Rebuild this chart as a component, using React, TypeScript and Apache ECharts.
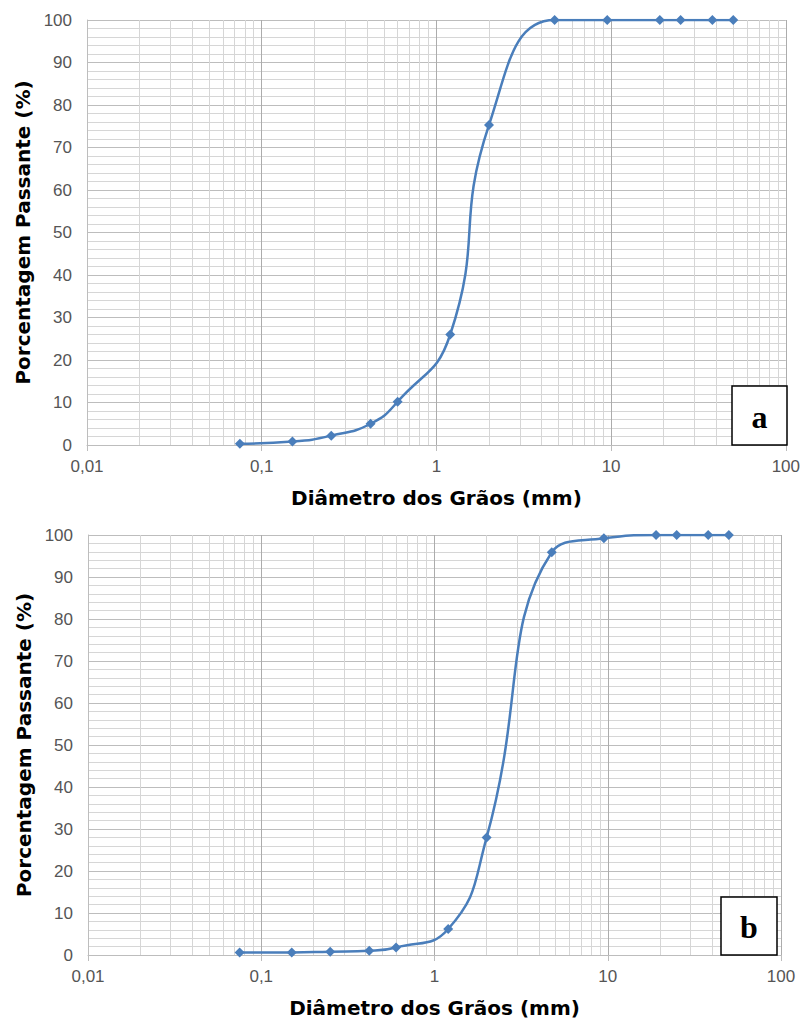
import React, { useEffect, useRef } from "react";
import * as echarts from "echarts";

// Sieve diameters (mm)
const diametersA = [0.075, 0.15, 0.25, 0.42, 0.6, 1.2, 2.0, 4.75, 9.5, 19, 25, 38, 50];
const passingA = [0.3, 0.8, 2.2, 5.0, 10.2, 26, 75.3, 100, 100, 100, 100, 100, 100];

const diametersB = [0.075, 0.15, 0.25, 0.42, 0.6, 1.2, 2.0, 4.75, 9.5, 19, 25, 38, 50];
const passingB = [0.6, 0.6, 0.8, 1.0, 1.8, 6.2, 28, 95.9, 99.2, 100, 100, 100, 100];

const decades = [0.01, 0.1, 1, 10];
const minorMultipliers = [2, 3, 4, 5, 6, 7, 8, 9];

const xTitle = "Diâmetro dos Grãos (mm)";
const yTitle = "Porcentagem Passante (%)";

const FONT = "'Liberation Sans', Arial, sans-serif";
const TITLE_FONT = "'DejaVu Sans', 'Liberation Sans', Arial, sans-serif";
const LINE_COLOR = "#4a7ebb";
const MAJOR_GRID = "#bdbdbd";
const MINOR_GRID = "#d6d6d6";
const LABEL_COLOR = "#555555";

function minorLines() {
  const out: { xAxis: number }[] = [];
  decades.forEach((d) =>
    minorMultipliers.forEach((m) => out.push({ xAxis: Number((d * m).toPrecision(6)) }))
  );
  return out;
}

function fmt(v: number) {
  return String(Number(v.toPrecision(6))).replace(".", ",");
}

function makeX(gridIndex: number) {
  return {
    type: "log",
    logBase: 10,
    gridIndex,
    min: 0.01,
    max: 100,
    name: xTitle,
    nameLocation: "middle",
    nameGap: 43,
    nameTextStyle: { fontFamily: TITLE_FONT, fontSize: 20, fontWeight: "bold", color: "#000" },
    axisLine: { show: true, lineStyle: { color: MAJOR_GRID, width: 1 } },
    axisTick: { show: true, length: 6, lineStyle: { color: MAJOR_GRID } },
    axisLabel: {
      margin: 13,
      fontFamily: FONT,
      fontSize: 17,
      color: LABEL_COLOR,
      formatter: (v: number) => fmt(v),
    },
    splitLine: { show: true, lineStyle: { color: "#acacac", width: 1 } },
    minorTick: { show: false },
    minorSplitLine: { show: false },
  };
}

function makeY(gridIndex: number) {
  return {
    type: "value",
    gridIndex,
    min: 0,
    max: 100,
    interval: 10,
    name: yTitle,
    nameLocation: "middle",
    nameGap: 52,
    nameTextStyle: { fontFamily: TITLE_FONT, fontSize: 20, fontWeight: "bold", color: "#000" },
    axisLine: { show: true, lineStyle: { color: MAJOR_GRID } },
    axisTick: { show: false },
    axisLabel: { margin: 15, fontFamily: FONT, fontSize: 17, color: LABEL_COLOR },
    splitLine: { show: true, lineStyle: { color: MAJOR_GRID, width: 1 } },
    minorTick: { show: false, splitNumber: 5 },
    minorSplitLine: { show: true, lineStyle: { color: MINOR_GRID, width: 1 } },
  };
}

function makeSeries(idx: number, xs: number[], ys: number[]) {
  return {
    type: "line",
    xAxisIndex: idx,
    yAxisIndex: idx,
    data: xs.map((x, i) => [x, ys[i]]),
    smooth: 0.5,
    symbol: "diamond",
    symbolSize: 10,
    showSymbol: true,
    clip: true,
    z: 3,
    itemStyle: { color: LINE_COLOR },
    lineStyle: { color: LINE_COLOR, width: 2.5 },
    markLine: {
      silent: true,
      symbol: ["none", "none"],
      label: { show: false },
      z: 1,
      lineStyle: { color: MINOR_GRID, type: "solid", width: 1 },
      data: minorLines(),
    },
  };
}

function labelBox(x: number, y: number, w: number, h: number, t: string) {
  return [
    {
      type: "rect",
      z: 100,
      shape: { x, y, width: w, height: h },
      style: { fill: "#ffffff", stroke: "#000000", lineWidth: 1.5, lineDash: null },
    },
    {
      type: "text",
      z: 101,
      x: x + w / 2,
      y: y + h / 2 + 1,
      style: {
        text: t,
        fontFamily: "'Liberation Serif', 'Times New Roman', serif",
        fontSize: 32,
        fontWeight: "bold",
        fill: "#000000",
        stroke: "none",
        lineWidth: 0,
        align: "center",
        verticalAlign: "middle",
      },
    },
  ];
}

export default function App() {
  const ref = useRef<HTMLDivElement>(null);
  useEffect(() => {
    if (!ref.current) return;
    const chart = echarts.init(ref.current, undefined, { renderer: "svg" });
    chart.setOption({
      animation: false,
      backgroundColor: "#ffffff",
      grid: [
        { left: 87, top: 20, width: 700, height: 425 },
        { left: 88, top: 535, width: 693, height: 421 },
      ],
      xAxis: [makeX(0), makeX(1)],
      yAxis: [makeY(0), makeY(1)],
      series: [makeSeries(0, diametersA, passingA), makeSeries(1, diametersB, passingB)],
      graphic: [...labelBox(732, 386, 55, 59, "a"), ...labelBox(721, 897, 56, 58, "b")],
    });
    return () => chart.dispose();
  }, []);
  return (
    <div
      ref={ref}
      style={{ position: "fixed", left: 0, top: 0, width: 803, height: 1019 }}
    />
  );
}
